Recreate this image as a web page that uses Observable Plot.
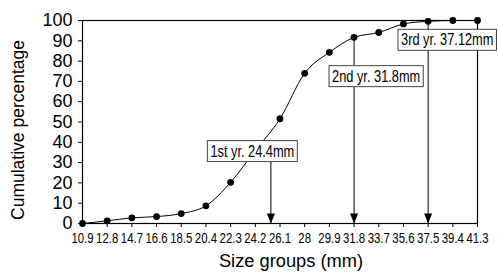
<!DOCTYPE html>
<html><head><meta charset="utf-8">
<script src="https://cdn.jsdelivr.net/npm/d3@7"></script>
<script src="https://cdn.jsdelivr.net/npm/@observablehq/plot@0.6"></script>
<style>
html,body{margin:0;padding:0;background:#fff;}
#chart{width:498px;height:274px;}
</style>
</head><body>
<div id="chart"></div>
<script>
// Size groups (mm) and cumulative percentage
const sizeGroups = [10.9, 12.8, 14.7, 16.6, 18.5, 20.4, 22.3, 24.2, 26.1, 28, 29.9, 31.8, 33.7, 35.6, 37.5, 39.4, 41.3];
const cumulative = [0, 1.3, 2.8, 3.4, 4.9, 8.7, 20.3, 36, 51.6, 74, 84.3, 91.7, 94.1, 98.3, 99.6, 100, 100];
const tickLabels = ["10.9","12.8","14.7","16.6","18.5","20.4","22.3","24.2","26.1","28","29.9","31.8","33.7","35.6","37.5","39.4","41.3"];
const yTicks = [0, 10, 20, 30, 40, 50, 60, 70, 80, 90, 100];

// Annotations (year marks)
const yearLabels = ["1st yr. 24.4mm", "2nd yr. 31.8mm", "3rd yr. 37.12mm"];
const arrowX = [25.4, 31.8, 37.5];
const arrowTop = [35.5, 91.7, 100];
const labelX = [23.97, 33.5, 38.97];
const labelY = [35.5, 72.4, 90.3];

const sans = "'Liberation Sans',Arial,Helvetica,sans-serif";
const NARROW = 0.8;   // horizontal squeeze for year labels
const NARROW_X = 0.76; // horizontal squeeze for x tick labels

const pts = sizeGroups.map((x, i) => ({x, y: cumulative[i]}));
const ann = yearLabels.map((t, i) => ({t, ax: arrowX[i], top: arrowTop[i], lx: labelX[i], ly: labelY[i]}));

const arrowHead = {draw(ctx) { ctx.moveTo(0, 0); ctx.lineTo(-4, -10); ctx.lineTo(4, -10); ctx.closePath(); }};

const chart = Plot.plot({
  width: 498,
  height: 274,
  marginLeft: 82,
  marginRight: 21,
  marginTop: 20,
  marginBottom: 51,
  style: {background: "#fff", color: "#000", overflow: "visible", fontFamily: sans},
  x: {type: "linear", domain: [10.9, 41.3]},
  y: {domain: [0, 100]},
  marks: [
    Plot.frame({stroke: "#000", strokeWidth: 1.2}),
    Plot.axisY({ticks: yTicks, tickSize: 4, tickPadding: 6, fontSize: 18, fontFamily: sans, label: null, stroke: "#000"}),
    Plot.axisX({ticks: sizeGroups, tickFormat: (d, i) => tickLabels[i], tickSize: 4, tickPadding: 5, fontSize: 15, fontFamily: sans, label: null, stroke: "#000"}),
    Plot.ruleX(ann, {x: "ax", y1: "top", y2: () => 0, stroke: "#000", strokeWidth: 1}),
    Plot.dot(ann, {x: "ax", y: () => 0, symbol: arrowHead, fill: "#000", stroke: "none"}),
    Plot.line(pts, {x: "x", y: "y", curve: "monotone-x", stroke: "#000", strokeWidth: 1}),
    Plot.dot(pts, {x: "x", y: "y", r: 3.4, fill: "#000", stroke: "none"}),
    Plot.text(ann, {x: "lx", y: "ly", text: "t", fontSize: 16, fontFamily: sans, fill: "#000"}),
    Plot.text(["Cumulative percentage"], {frameAnchor: "left", textAnchor: "middle", dx: -64, dy: 8, rotate: -90, fontSize: 17.5, fontFamily: sans, fill: "#000"}),
    Plot.text(["Size groups (mm)"], {frameAnchor: "bottom", textAnchor: "middle", dx: 11, dy: 43, fontSize: 18.3, fontFamily: sans, fill: "#000"})
  ]
});
document.getElementById("chart").append(chart);

const svgns = "http://www.w3.org/2000/svg";
// squeeze x tick labels horizontally (narrow face look)
chart.querySelectorAll("text").forEach(t => {
  if (tickLabels.includes(t.textContent) && t.closest('g[aria-label="x-axis tick label"]')) {
    const tr = t.getAttribute("transform") || "";
    t.setAttribute("transform", tr + ` scale(${NARROW_X},1)`);
  }
});
// white boxes with thin grey border behind the year labels
chart.querySelectorAll("text").forEach(t => {
  if (!yearLabels.includes(t.textContent)) return;
  const tr = t.getAttribute("transform") || "";
  const b = t.getBBox();
  const r = document.createElementNS(svgns, "rect");
  const w = b.width * NARROW;
  const cx = (b.x + b.width / 2) * NARROW;
  r.setAttribute("x", cx - w / 2 - 3);
  r.setAttribute("y", b.y - 2);
  r.setAttribute("width", w + 6);
  r.setAttribute("height", b.height + 4);
  r.setAttribute("fill", "#fff");
  r.setAttribute("stroke", "#444");
  r.setAttribute("stroke-width", "1");
  if (tr) r.setAttribute("transform", tr);
  t.setAttribute("transform", tr + ` scale(${NARROW},1)`);
  t.parentNode.insertBefore(r, t);
});
</script>
</body></html>
